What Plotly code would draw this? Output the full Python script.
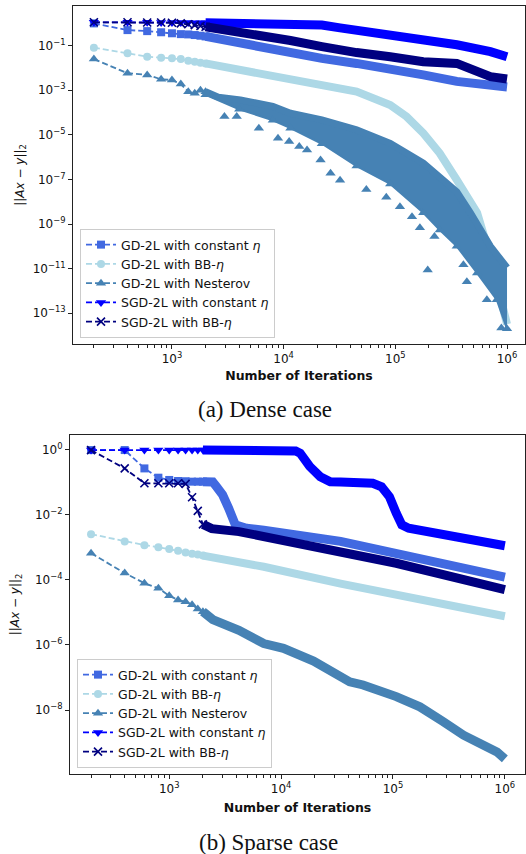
import plotly.graph_objects as go

# ---------------- data ----------------
ITER_EARLY = [200, 400, 600, 800, 1000, 1200, 1400, 1600, 1800, 2000]

# Dense case
D_GDC_Y = [1.0, 0.50, 0.45, 0.40, 0.36, 0.33, 0.32, 0.30, 0.28, 0.26]
D_GDC_BX = [2000, 4000, 8000, 11500, 22000, 45000, 90000, 178000, 355000, 710000, 1000000]
D_GDC_BY = [0.26, 0.13, 0.079, 0.056, 0.027, 0.016, 0.0098, 0.0049, 0.0025, 0.0017, 0.0014]

D_GDBB_Y = [0.081, 0.046, 0.032, 0.029, 0.027, 0.025, 0.021, 0.019, 0.017, 0.016]
D_GDBB_BX = [2000, 4000, 8000, 14800, 22000, 45000, 90000, 126000, 178000, 250000,
             355000, 470000, 540000, 710000, 890000, 1000000]
D_GDBB_BY = [0.016, 0.0081, 0.0041, 0.0025, 0.0017, 8.7e-4, 2.2e-4, 6.6e-5, 1.2e-5, 1.5e-6,
             9.5e-8, 1e-8, 3.2e-9, 3.2e-11, 3.2e-13, 3.2e-14]

D_NES_Y = [0.025, 0.0058, 0.0049, 0.0031, 0.0029, 0.0019, 8.7e-4, 7.4e-4, 1.0e-3, 8.7e-4]
D_NES_UX = [2000, 2600, 4100, 8000, 11500, 22000, 45000, 90000, 178000, 270000, 355000,
            470000, 710000, 1000000]
D_NES_UY = [8.7e-4, 4.9e-4, 3.7e-4, 1.9e-4, 9.3e-5, 4.7e-5, 1.7e-5, 4.2e-6, 5.4e-7, 9.3e-8,
            2.8e-8, 3.2e-9, 1e-10, 1.1e-11]
D_NES_LX = [2000, 4000, 8000, 11500, 22000, 45000, 90000, 178000, 250000, 355000, 540000,
            810000, 1000000]
D_NES_LY = [6.3e-4, 1.4e-4, 4.5e-5, 2.0e-5, 4e-6, 4e-7, 6.3e-8, 3.2e-9, 5.4e-10, 1e-10,
            6.3e-12, 4e-13, 2e-14]
D_NES_DIPX = [2950, 3800, 6000, 8900, 11200, 13800, 16200, 21400, 26300, 32000, 55000, 83000,
              110000, 141000, 166000, 195000, 224000, 407000, 437000, 660000, 890000]
D_NES_DIPY = [6.6e-5, 6.6e-5, 2e-5, 7.1e-6, 5e-6, 3e-6, 2.1e-6, 7.4e-7, 1.9e-7, 9.3e-8,
              3.5e-8, 1.6e-8, 6e-9, 2.1e-9, 6.8e-10, 8.7e-12, 2.8e-10, 1.5e-11, 2.6e-12,
              4e-13, 2.2e-14]

D_SGDC_Y = [1.12, 1.12, 1.12, 1.1, 1.1, 1.1, 1.1, 1.07, 1.07, 1.07]
D_SGDC_BX = [2000, 4000, 11500, 22000, 32000, 45000, 90000, 178000, 355000, 710000, 1000000]
D_SGDC_BY = [1.07, 1.07, 1.0, 0.85, 0.63, 0.5, 0.30, 0.18, 0.11, 0.054, 0.032]

D_SGDBB_Y = [1.12, 1.12, 1.1, 1.1, 1.07, 1.0, 0.91, 0.83, 0.76, 0.71]
D_SGDBB_BX = [2000, 4000, 8000, 11500, 22000, 32000, 45000, 90000, 178000, 355000, 500000,
              710000, 1000000]
D_SGDBB_BY = [0.71, 0.43, 0.25, 0.17, 0.091, 0.06, 0.049, 0.032, 0.019, 0.016, 0.0081,
              0.0041, 0.0032]

# Sparse case
S_GDC_Y = [0.95, 0.95, 0.26, 0.135, 0.115, 0.107, 0.105, 0.102, 0.102, 0.102]
S_GDC_BX = [2000, 2450, 2650, 3000, 3400, 3650, 3900, 4900, 7000, 34000, 107000, 263000, 1000000]
S_GDC_BY = [0.102, 0.1, 0.071, 0.04, 0.0155, 0.0068, 0.0048, 0.0038, 0.0033, 0.0015, 6.5e-4,
            3.5e-4, 1.2e-4]

S_GDBB_Y = [0.0025, 0.0015, 0.00115, 0.001, 8.7e-4, 7.8e-4, 6.9e-4, 6.3e-4, 5.9e-4, 5.5e-4]
S_GDBB_BX = [2000, 4200, 7000, 34000, 107000, 1000000]
S_GDBB_BY = [5.5e-4, 3.4e-4, 2.5e-4, 7.6e-5, 3.5e-5, 7.6e-6]

S_NES_Y = [6.5e-4, 1.6e-4, 7.8e-5, 5.5e-5, 3.2e-5, 2.4e-5, 2.1e-5, 1.7e-5, 1.26e-5, 1.05e-5]
S_NES_BX = [2000, 2450, 4200, 7000, 10500, 19500, 41000, 54000, 107000, 174000, 282000,
            427000, 600000, 850000, 1000000]
S_NES_BY = [1.05e-5, 6e-6, 2.8e-6, 1.1e-6, 7.9e-7, 3.2e-7, 7.4e-8, 5.9e-8, 2.6e-8, 1.26e-8,
            4.4e-9, 1.7e-9, 9.5e-10, 5.2e-10, 3.2e-10]

S_SGDC_Y = [0.95, 0.95, 0.95, 0.95, 0.95, 0.95, 0.95, 0.95, 0.95, 0.95]
S_SGDC_BX = [2000, 12000, 13500, 14800, 16000, 18000, 22400, 27500, 34000, 66000, 79000,
             93000, 107000, 120000, 138000, 427000, 1000000]
S_SGDC_BY = [0.95, 0.95, 0.89, 0.76, 0.52, 0.30, 0.145, 0.102, 0.1, 0.091, 0.071, 0.035,
             0.011, 0.0048, 0.0038, 0.0019, 0.0011]

S_SGDBB_Y = [0.95, 0.26, 0.091, 0.091, 0.091, 0.091, 0.087, 0.034, 0.013, 0.005]
S_SGDBB_BX = [2000, 2200, 2400, 4200, 7000, 107000, 1000000]
S_SGDBB_BY = [0.005, 0.004, 0.0037, 0.003, 0.0021, 3.2e-4, 5e-5]

NAMES = ["GD-2L with constant <i>η</i>", "GD-2L with BB-<i>η</i>", "GD-2L with Nesterov",
         "SGD-2L with constant <i>η</i>", "SGD-2L with BB-<i>η</i>"]
COLORS = ["#4169E1", "#ADD8E6", "#4682B4", "#0000FF", "#000080"]
SYMBOLS = ["square", "circle", "triangle-up", "triangle-down", "x-thin"]

X_TICKVALS = [1e3, 1e4, 1e5, 1e6]
X_TICKTEXT = ["10<sup>3</sup>", "10<sup>4</sup>", "10<sup>5</sup>", "10<sup>6</sup>"]
D_Y_TICKVALS = [1e-13, 1e-11, 1e-9, 1e-7, 1e-5, 1e-3, 1e-1]
D_Y_TICKTEXT = ["10<sup>−13</sup>", "10<sup>−11</sup>", "10<sup>−9</sup>", "10<sup>−7</sup>",
                "10<sup>−5</sup>", "10<sup>−3</sup>", "10<sup>−1</sup>"]
S_Y_TICKVALS = [1e-8, 1e-6, 1e-4, 1e-2, 1e0]
S_Y_TICKTEXT = ["10<sup>−8</sup>", "10<sup>−6</sup>", "10<sup>−4</sup>", "10<sup>−2</sup>",
                "10<sup>0</sup>"]
X_MINOR = [m * 10 ** d for d in range(2, 7) for m in range(2, 10)]

# ---------------- figure ----------------
W, H = 526, 854
FONT = "DejaVu Sans"
fig = go.Figure()


def marker_for(i):
    sizes = [8, 8, 9, 9, 8]
    if SYMBOLS[i] == "x-thin":
        return dict(symbol="x-thin", size=sizes[i], color=COLORS[i],
                    line=dict(width=1.6, color=COLORS[i]))
    return dict(symbol=SYMBOLS[i], size=sizes[i], color=COLORS[i], line=dict(width=0))


def add_band(i, bx, by, xa, ya, width=9):
    fig.add_trace(go.Scatter(x=bx, y=by, mode="lines", xaxis=xa, yaxis=ya,
                             line=dict(color=COLORS[i], width=width),
                             showlegend=False, hoverinfo="skip"))


def add_early(i, ey, xa, ya, legend):
    fig.add_trace(go.Scatter(x=ITER_EARLY, y=ey, mode="lines+markers", xaxis=xa, yaxis=ya,
                             name=NAMES[i], legend=legend,
                             line=dict(color=COLORS[i], width=1.8, dash="6px,3px"),
                             marker=marker_for(i)))


# Dense panel
add_band(0, D_GDC_BX, D_GDC_BY, "x", "y")
add_early(0, D_GDC_Y, "x", "y", "legend")
add_band(1, D_GDBB_BX, D_GDBB_BY, "x", "y", width=8)
add_early(1, D_GDBB_Y, "x", "y", "legend")
# Nesterov: oscillating region between envelopes
fig.add_trace(go.Scatter(x=D_NES_UX, y=D_NES_UY, mode="lines", xaxis="x", yaxis="y",
                         line=dict(color=COLORS[2], width=7), showlegend=False,
                         hoverinfo="skip"))
fig.add_trace(go.Scatter(x=D_NES_LX, y=D_NES_LY, mode="lines+markers", xaxis="x", yaxis="y",
                         line=dict(color=COLORS[2], width=2), fill="tonexty",
                         fillcolor=COLORS[2], marker=marker_for(2),
                         showlegend=False, hoverinfo="skip"))
fig.add_trace(go.Scatter(x=D_NES_DIPX, y=D_NES_DIPY, mode="markers", xaxis="x", yaxis="y",
                         marker=marker_for(2), showlegend=False, hoverinfo="skip"))
add_early(2, D_NES_Y, "x", "y", "legend")
add_band(3, D_SGDC_BX, D_SGDC_BY, "x", "y")
add_early(3, D_SGDC_Y, "x", "y", "legend")
add_band(4, D_SGDBB_BX, D_SGDBB_BY, "x", "y")
add_early(4, D_SGDBB_Y, "x", "y", "legend")

# Sparse panel
add_band(0, S_GDC_BX, S_GDC_BY, "x2", "y2")
add_early(0, S_GDC_Y, "x2", "y2", "legend2")
add_band(1, S_GDBB_BX, S_GDBB_BY, "x2", "y2", width=8)
add_early(1, S_GDBB_Y, "x2", "y2", "legend2")
add_band(2, S_NES_BX, S_NES_BY, "x2", "y2")
add_early(2, S_NES_Y, "x2", "y2", "legend2")
add_band(3, S_SGDC_BX, S_SGDC_BY, "x2", "y2")
add_early(3, S_SGDC_Y, "x2", "y2", "legend2")
add_band(4, S_SGDBB_BX, S_SGDBB_BY, "x2", "y2")
add_early(4, S_SGDBB_Y, "x2", "y2", "legend2")

axis_common = dict(type="log", showline=True, mirror=True, linecolor="#222", linewidth=1,
                   ticks="outside", ticklen=4, tickwidth=1, tickcolor="#222",
                   showgrid=False, zeroline=False, automargin=False,
                   tickfont=dict(family=FONT, size=12, color="#111"))
xtitle = dict(text="<b>Number of Iterations</b>", font=dict(family=FONT, size=12.5, color="#111"),
              standoff=5)
ytitle = dict(text="||<i>Ax</i> − <i>y</i>||<sub>2</sub>",
              font=dict(family=FONT, size=12, color="#111"))
legend_common = dict(xanchor="left", yanchor="bottom", traceorder="normal",
                     bgcolor="rgba(255,255,255,0.85)", bordercolor="#cccccc", borderwidth=1,
                     font=dict(family=FONT, size=12.5, color="#111"), itemwidth=30,
                     tracegroupgap=0)
CAPTION_FONT = dict(family="Liberation Serif", size=23, color="#111")

fig.update_layout(
    width=W, height=H, margin=dict(l=0, r=0, t=0, b=0),
    paper_bgcolor="white", plot_bgcolor="white",
    font=dict(family=FONT, size=12, color="#111"),
    xaxis=dict(axis_common, domain=[73 / W, 525 / W], range=[2.114, 6.161], anchor="y",
               tickvals=X_TICKVALS, ticktext=X_TICKTEXT,
               minor=dict(tickvals=X_MINOR, ticks="outside", ticklen=2.5, tickcolor="#222"),
               title=xtitle),
    yaxis=dict(axis_common, domain=[1 - 344 / H, 1 - 6 / H], range=[-14.38, 0.78], anchor="x",
               tickvals=D_Y_TICKVALS, ticktext=D_Y_TICKTEXT, title=dict(ytitle, standoff=5)),
    xaxis2=dict(axis_common, domain=[70 / W, 525 / W], range=[2.113, 6.18], anchor="y2",
                tickvals=X_TICKVALS, ticktext=X_TICKTEXT,
                minor=dict(tickvals=X_MINOR, ticks="outside", ticklen=2.5, tickcolor="#222"),
                title=dict(xtitle, standoff=7)),
    yaxis2=dict(axis_common, domain=[1 - 774 / H, 1 - 435 / H], range=[-9.96, 0.44],
                anchor="x2", tickvals=S_Y_TICKVALS, ticktext=S_Y_TICKTEXT,
                title=dict(ytitle, standoff=12)),
    legend=dict(legend_common, x=80 / W, y=1 - 338 / H),
    legend2=dict(legend_common, x=77 / W, y=1 - 768 / H),
    annotations=[
        dict(text="(a) Dense case", x=265 / W, y=1 - 409 / H, xref="paper", yref="paper",
             showarrow=False, xanchor="center", yanchor="middle", font=CAPTION_FONT),
        dict(text="(b) Sparse case", x=268 / W, y=1 - 842 / H, xref="paper", yref="paper",
             showarrow=False, xanchor="center", yanchor="middle", font=CAPTION_FONT),
    ],
)

fig.write_html("out.html", config={"displayModeBar": False},
               post_script="document.body.style.margin='0';"
                           "document.body.style.overflow='hidden';")
